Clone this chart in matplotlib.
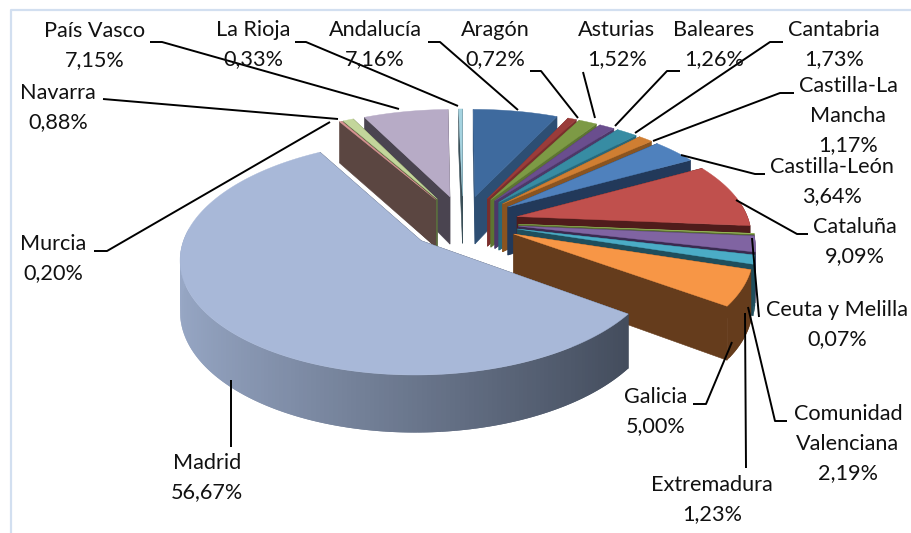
"""Spanish regions share, exploded 3D pie drawn by hand."""

import numpy as np
import matplotlib
matplotlib.use('Agg')
import matplotlib.pyplot as plt
from matplotlib.colors import to_rgb
from matplotlib.patches import Polygon

regions = ['Andalucía', 'Aragón', 'Asturias', 'Baleares', 'Cantabria',
           'Castilla-La Mancha', 'Castilla-León', 'Cataluña', 'Ceuta y Melilla',
           'Comunidad Valenciana', 'Extremadura', 'Galicia', 'Madrid', 'Murcia',
           'Navarra', 'País Vasco', 'La Rioja']
shares = [7.16, 0.72, 1.52, 1.26, 1.73, 1.17, 3.64, 9.09, 0.07, 2.19, 1.23,
          5.00, 56.67, 0.20, 0.88, 7.15, 0.33]
top_colors = ['#3E6A9E', '#9A3C3A', '#7D9A45', '#6A4E8E', '#378CA3', '#CF7E32',
              '#4F81BD', '#C0504D', '#9BBB59', '#8064A2', '#4BACC6', '#F79646',
              '#A8B8D8', '#D99694', '#C3D69B', '#B7ABC6', '#A5D3E0']
side_colors = ['#2D4E73', '#7A2E2C', '#5D7532', '#4D3868', '#28687A', '#8A5420',
               '#22395A', '#4F1C1B', '#5B6E34', '#3A2A50', '#1F4E5C', '#653C1C',
               '#434C5C', '#5B4641', '#5A6B3F', '#4A4450', '#3A4F58']

# label text lines, centre x, y of first line
labels = [
    (['Andalucía', '7,16%'], 375, 30),
    (['Aragón', '0,72%'], 495, 30),
    (['Asturias', '1,52%'], 617, 30),
    (['Baleares', '1,26%'], 714, 30),
    (['Cantabria', '1,73%'], 834, 30),
    (['Castilla-La', 'Mancha', '1,17%'], 848, 86),
    (['Castilla-León', '3,64%'], 832, 167),
    (['Cataluña', '9,09%'], 855, 227),
    (['Ceuta y Melilla', '0,07%'], 837, 310),
    (['Comunidad', 'Valenciana', '2,19%'], 848, 414),
    (['Extremadura', '1,23%'], 712, 485),
    (['Galicia', '5,00%'], 656, 397),
    (['Madrid', '56,67%'], 207, 463),
    (['Murcia', '0,20%'], 53, 244),
    (['Navarra', '0,88%'], 58, 93),
    (['País Vasco', '7,15%'], 95, 31),
    (['La Rioja', '0,33%'], 253, 30),
]
leaders = [
    [(428, 42), (440, 42), (518, 110)],
    [(530, 71), (541, 71), (578, 118)],
    [(583, 72), (595, 118)],
    [(680, 71), (667, 71), (615, 126)],
    [(783, 42), (770, 42), (635, 133)],
    [(794, 93), (780, 93), (653, 141)],
    [(765, 174), (755, 174), (681, 155)],
    [(808, 234), (797, 234), (736, 200)],
    [(759, 317), (752, 238)],
    [(787, 421), (775, 421), (748, 307)],
    [(746, 468), (745, 313)],
    [(693, 404), (706, 404), (732, 342)],
    [(231, 447), (231, 380)],
    [(94, 251), (107, 251), (330, 122)],
    [(103, 99), (338, 119)],
    [(150, 42), (162, 42), (399, 109)],
    [(295, 42), (306, 42), (458, 106)],
]

# pie geometry in pixels
CX, CY = 463, 222
RX, KY = 232, 112
PERSP = 0.15
EXPLODE = 0.24
DEPTH = 49


def project(x, y, z=0.0):
    """x right, y towards viewer, z down; returns screen pixels."""
    s = 1 + PERSP * y
    return CX + RX * x * s, CY + KY * y * s + DEPTH * z * s


def draw_slice(ax, start, end, top, side, gradient=False):
    mid = (start + end) / 2
    ox, oy = EXPLODE * np.sin(mid), -EXPLODE * np.cos(mid)
    n = max(2, int(np.degrees(end - start)) + 1)
    th = np.linspace(start, end, n)
    xs = ox + np.sin(th)
    ys = oy - np.cos(th)

    apex_t = project(ox, oy, 0)
    apex_b = project(ox, oy, 1)
    for i in (0, -1):
        wall = [apex_t, project(xs[i], ys[i], 0), project(xs[i], ys[i], 1), apex_b]
        ax.add_patch(Polygon(wall, closed=True, fc=side, ec=side, lw=0.4, zorder=2))
    light = np.array(to_rgb('#98A8C6'))
    dark = np.array(to_rgb(side))
    for i in range(n - 1):
        if np.cos(th[i]) > 0.1 and np.cos(th[i + 1]) > 0.1:
            continue
        col = side
        if gradient:
            # lighter on the left, dark towards the right corner
            t = np.clip((np.sin(th[i]) + 1) / 1.82, 0, 1)
            col = light * (1 - t) + dark * t
        # each quad also covers the previous step so no seams show
        h = max(i - 1, 0)
        quad = [project(xs[i + 1], ys[i + 1], 0), project(xs[h], ys[h], 0),
                project(xs[h], ys[h], 1), project(xs[i + 1], ys[i + 1], 1)]
        ax.add_patch(Polygon(quad, closed=True, fc=col, ec='none', zorder=2))
    outline = [apex_t] + [project(a, b, 0) for a, b in zip(xs, ys)]
    ax.add_patch(Polygon(outline, closed=True, fc=top, ec=top, lw=0.3, zorder=2))


def main():
    fig = plt.figure(figsize=(9.11, 5.33), dpi=100)
    ax = fig.add_axes([0, 0, 1, 1])
    ax.set_xlim(0, 911)
    ax.set_ylim(533, 0)
    ax.axis('off')

    # chart frame
    ax.plot([11, 11, 911], [533, 10, 10], color='#D2DFF0', lw=1.6, zorder=1)

    edges = np.cumsum([0] + shares) / np.sum(shares) * 2 * np.pi
    # back slices first
    order = sorted(range(len(shares)),
                   key=lambda i: -np.cos((edges[i] + edges[i + 1]) / 2))
    for i in order:
        draw_slice(ax, edges[i], edges[i + 1], top_colors[i], side_colors[i],
                   gradient=regions[i] == 'Madrid')

    for pts in leaders:
        ax.plot([p[0] for p in pts], [p[1] for p in pts], color='black', lw=1.4,
                solid_capstyle='butt', zorder=3)
    for lines, x, y in labels:
        for k, line in enumerate(lines):
            ax.text(x, y + k * 29.5, line, family='Lato', fontsize=15.6,
                    ha='center', va='center', color='#111111', zorder=4)

    fig.savefig('out.png', dpi=100)
    plt.close(fig)


if __name__ == '__main__':
    main()
